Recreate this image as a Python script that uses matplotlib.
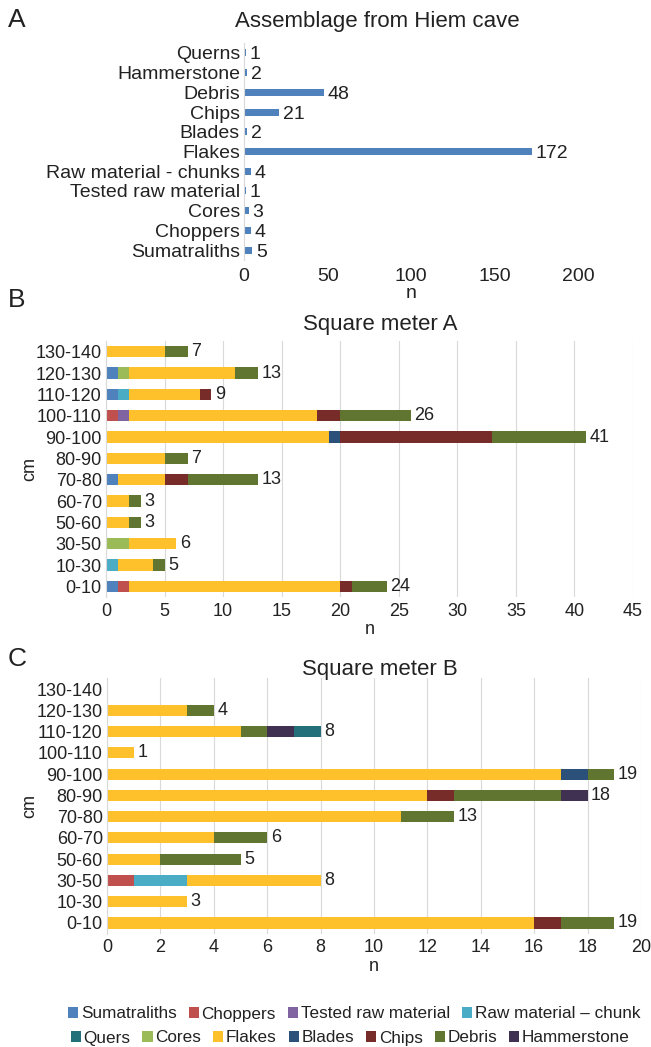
import numpy as np
import matplotlib
matplotlib.use("Agg")
import matplotlib.pyplot as plt
from matplotlib.patches import Patch

plt.rcParams['font.family'] = ['Liberation Sans', 'DejaVu Sans']

# Panel A: whole assemblage, bottom to top
types_all = ["Sumatraliths", "Choppers", "Cores", "Tested raw material",
             "Raw material - chunks", "Flakes", "Blades", "Chips", "Debris",
             "Hammerstone", "Querns"]
counts_all = [5, 4, 3, 1, 4, 172, 2, 21, 48, 2, 1]

# Depth bins (cm), bottom to top
depths = ["0-10", "10-30", "30-50", "50-60", "60-70", "70-80", "80-90",
          "90-100", "100-110", "110-120", "120-130", "130-140"]

# Category names and colours (legend order)
cats = ["Sumatraliths", "Choppers", "Tested raw material", "Raw material \u2013 chunk",
        "Quers", "Cores", "Flakes", "Blades", "Chips", "Debris", "Hammerstone"]
colors = {"Sumatraliths": "#4f81bd", "Choppers": "#c0504d",
          "Tested raw material": "#8064a2", "Raw material \u2013 chunk": "#4bacc6",
          "Quers": "#23707a", "Cores": "#9bbb59", "Flakes": "#fec12c",
          "Blades": "#2b5079", "Chips": "#772c2a", "Debris": "#5f7530",
          "Hammerstone": "#403152"}

# Square meter A, one list per category, bins 0-10 ... 130-140
sqA = {
    "Sumatraliths":            [1, 0, 0, 0, 0, 1, 0, 0, 0, 1, 1, 0],
    "Choppers":                [1, 0, 0, 0, 0, 0, 0, 0, 1, 0, 0, 0],
    "Tested raw material":     [0, 0, 0, 0, 0, 0, 0, 0, 1, 0, 0, 0],
    "Raw material \u2013 chunk": [0, 1, 0, 0, 0, 0, 0, 0, 0, 1, 0, 0],
    "Quers":                   [0, 0, 0, 0, 0, 0, 0, 0, 0, 0, 0, 0],
    "Cores":                   [0, 0, 2, 0, 0, 0, 0, 0, 0, 0, 1, 0],
    "Flakes":                  [18, 3, 4, 2, 2, 4, 5, 19, 16, 6, 9, 5],
    "Blades":                  [0, 0, 0, 0, 0, 0, 0, 1, 0, 0, 0, 0],
    "Chips":                   [1, 0, 0, 0, 0, 2, 0, 13, 2, 1, 0, 0],
    "Debris":                  [3, 1, 0, 1, 1, 6, 2, 8, 6, 0, 2, 2],
    "Hammerstone":             [0, 0, 0, 0, 0, 0, 0, 0, 0, 0, 0, 0],
}

# Square meter B
sqB = {
    "Sumatraliths":            [0, 0, 0, 0, 0, 0, 0, 0, 0, 0, 0, 0],
    "Choppers":                [0, 0, 1, 0, 0, 0, 0, 0, 0, 0, 0, 0],
    "Tested raw material":     [0, 0, 0, 0, 0, 0, 0, 0, 0, 0, 0, 0],
    "Raw material \u2013 chunk": [0, 0, 2, 0, 0, 0, 0, 0, 0, 0, 0, 0],
    "Quers":                   [0, 0, 0, 0, 0, 0, 0, 0, 0, 1, 0, 0],
    "Cores":                   [0, 0, 0, 0, 0, 0, 0, 0, 0, 0, 0, 0],
    "Flakes":                  [16, 3, 5, 2, 4, 11, 12, 17, 1, 5, 3, 0],
    "Blades":                  [0, 0, 0, 0, 0, 0, 0, 1, 0, 0, 0, 0],
    "Chips":                   [1, 0, 0, 0, 0, 0, 1, 0, 0, 0, 0, 0],
    "Debris":                  [2, 0, 0, 3, 2, 2, 4, 1, 0, 1, 1, 0],
    "Hammerstone":             [0, 0, 0, 0, 0, 0, 1, 0, 0, 1, 0, 0],
}

# order the segments are stacked in
stack_order = ["Sumatraliths", "Choppers", "Tested raw material", "Raw material \u2013 chunk",
               "Cores", "Flakes", "Blades", "Chips", "Debris", "Hammerstone", "Quers"]

TXT = "#222222"
GRID = "#d9d9d9"

fig = plt.figure(figsize=(6.51, 10.47), dpi=100)


def style_axis(ax, fs, grid):
    for s in ["top", "right", "bottom"]:
        ax.spines[s].set_visible(False)
    ax.spines["left"].set_color(GRID)
    ax.tick_params(length=0, labelsize=fs, colors=TXT, pad=3)
    if grid:
        ax.xaxis.grid(True, color=GRID, lw=0.8)
        ax.set_axisbelow(True)


# --- A ---
axA = fig.add_axes([0.375, 0.7517, 0.5135, 0.2072])
yA = np.arange(len(types_all))
axA.barh(yA, counts_all, height=0.35, color="#4f81bd")
for y, v in zip(yA, counts_all):
    axA.annotate(str(v), (v, y - 0.1), xytext=(2.5, 0), textcoords="offset points",
                 va="center", ha="left", fontsize=14, color=TXT)
axA.set_yticks(yA)
axA.set_yticklabels(types_all)
axA.set_ylim(-0.5, len(types_all) - 0.5)
axA.set_xlim(0, 200)
axA.set_xticks([0, 50, 100, 150, 200])
style_axis(axA, 14, grid=False)
axA.tick_params(axis="x", pad=6)
axA.set_xlabel("n", fontsize=14, color=TXT, labelpad=0)
fig.text(0.579, 0.979, "Assemblage from Hiem cave", ha="center", va="center",
         fontsize=16, color=TXT)
fig.text(0.012, 0.981, "A", ha="left", va="center", fontsize=19, color=TXT)


def stacked(ax, data, xmax, step):
    y = np.arange(len(depths))
    left = np.zeros(len(depths))
    for c in stack_order:
        vals = np.array(data[c], dtype=float)
        ax.barh(y, vals, left=left, height=0.52, color=colors[c], linewidth=0)
        left += vals
    for yi, tot in zip(y, left):
        if tot > 0:
            ax.annotate(str(int(tot)), (tot, yi), xytext=(2.5, 0), textcoords="offset points",
                        va="center", ha="left", fontsize=13, color=TXT)
    ax.set_yticks(y)
    ax.set_yticklabels(depths)
    ax.set_ylim(-0.5, len(depths) - 0.5)
    ax.set_xlim(0, xmax)
    ax.set_xticks(np.arange(0, xmax + step / 2, step))
    style_axis(ax, 13, grid=True)
    ax.tick_params(axis="x", pad=4)
    ax.set_xlabel("n", fontsize=13, color=TXT, labelpad=1)
    ax.set_ylabel("cm", fontsize=13, color=TXT)
    ax.yaxis.set_label_coords(-0.129, 0.5)


# --- B ---
axB = fig.add_axes([0.1628, 0.4298, 0.8096, 0.2445])
stacked(axB, sqA, 45, 5)
fig.text(0.584, 0.6896, "Square meter A", ha="center", va="center", fontsize=16, color=TXT)
fig.text(0.012, 0.713, "B", ha="left", va="center", fontsize=19, color=TXT)

# --- C ---
axC = fig.add_axes([0.1644, 0.1083, 0.8202, 0.2437])
stacked(axC, sqB, 20, 2)
fig.text(0.584, 0.361, "Square meter B", ha="center", va="center", fontsize=16, color=TXT)
fig.text(0.012, 0.371, "C", ha="left", va="center", fontsize=19, color=TXT)

# legend in two rows
rows = [cats[:4], cats[4:]]
ys = [1 - 1014 / 1047, 1 - 1038 / 1047]
xs = [0.544, 0.538]
for names, yy, xx in zip(rows, ys, xs):
    handles = [Patch(facecolor=colors[n], edgecolor="none") for n in names]
    fig.legend(handles, names, loc="center", bbox_to_anchor=(xx, yy), ncol=len(names),
               frameon=False, fontsize=12.3, handlelength=0.6, handleheight=0.6,
               handletextpad=0.15, columnspacing=0.7, borderpad=0, labelcolor=TXT)

fig.savefig("out.png", dpi=100)
